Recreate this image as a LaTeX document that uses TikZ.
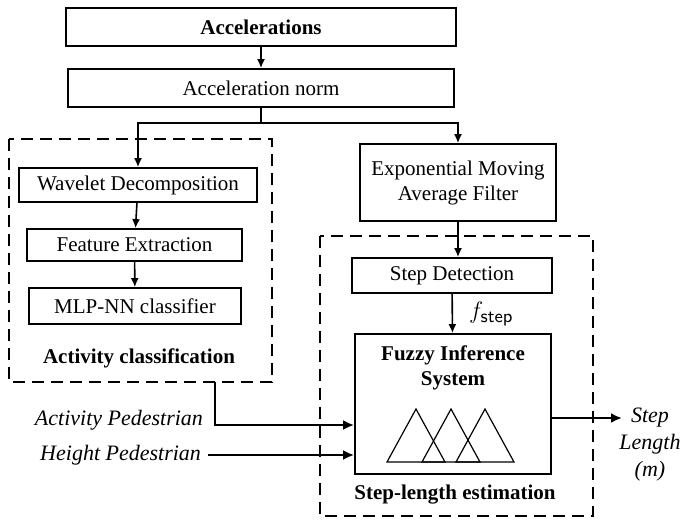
\documentclass[tikz,border=0pt]{standalone}
\usepackage{fontspec}
\setmainfont{Liberation Serif}
\usepackage{amsmath}
\usepackage{xcolor}
\usepackage{tikz}
\usetikzlibrary{positioning}
\usetikzlibrary{arrows.meta, calc}

\tikzset{
    block/.style={draw, line width=0.9pt, inner sep=1pt, align=center,
        font=\fontsize{10.5}{12.5}\selectfont},
    title/.style={align=center, font=\fontsize{10.5}{12.5}\selectfont\bfseries},
    signal/.style={align=center, font=\fontsize{11}{13.5}\selectfont\itshape},
    group/.style={draw, line width=1.3pt, dash pattern=on 6pt off 3.5pt},
    link/.style={line width=0.8pt, -{Latex[length=4.5pt, width=4pt]}},
    input/.style={line width=1.3pt, -{Latex[length=5.5pt, width=5pt]}},
}

\begin{document}
\begin{tikzpicture}[x=1pt, y=-1pt]
        \useasboundingbox (0,0) rectangle (343,260.5);

        % common front end
        \node[block, minimum width=195pt, minimum height=19pt, font=\fontsize{10.5}{12.5}\selectfont\bfseries]
            (accel) at (130.5,13.5) {Accelerations};
        \node[block, minimum width=193pt, minimum height=19pt] (norm) at (130.5,44) {Acceleration norm};
        \coordinate (split) at (130.5,61.5);

        \begin{scope}
            \draw[group] (4.5,69.5) rectangle (136,191);
            \coordinate (acttap) at (107.5,191);
            \node[block, minimum width=119pt, minimum height=17pt] (wave) at (69,92.5) {Wavelet Decomposition};
            \node[block, minimum width=107.5pt, minimum height=16pt] (feat) at (67.25,122.5) {Feature Extraction};
            \node[block, minimum width=106pt, minimum height=18pt] (mlp) at (67.5,153) {MLP-NN classifier};
            \node[title] (actlbl) at (69.5,179) {Activity classification};
        \end{scope}

        \node[block, minimum width=98pt, minimum height=38.5pt] (ema) at (229,91.25)
            {Exponential Moving\\Average Filter};

        \begin{scope}
            \draw[group] (160,118) rectangle (296.5,258);
            \node[block, minimum width=100pt, minimum height=17.5pt] (stepdet) at (226,137.75) {Step Detection};
            \node[block, minimum width=98pt, minimum height=70pt] (fis) at (226.5,202) {};
            \node[title] (fistitle) at (226.5,183.75) {Fuzzy Inference\\System};
            \foreach \x in {193.5, 211, 228}
                \draw[line width=0.6pt, line join=miter] (\x,231) -- ++(14.5,-26.5) -- ++(14.5,26.5) -- cycle;
            \node[title] (estlbl) at (227.5,247.5) {Step-length estimation};
        \end{scope}

        \node[signal, anchor=east] (actped) at (105,210) {Activity Pedestrian};
        \node[signal, anchor=east] (hgtped) at (104,227.5) {Height Pedestrian};
        \coordinate (out) at (311,209);
        \node[signal] (steplen) at (325,222.5) {Step\\Length\\(m)};

        \draw[link] (accel) -- (norm);
        \draw[line width=0.8pt] (norm) -- (split);
        \draw[link] (split) -| (wave.north);
        \draw[link] (split) -| (ema.north);
        \draw[link] (wave) -- (feat);
        \draw[link] (feat) -- (mlp);
        \draw[link] (ema.south) -- (ema.south |- stepdet.north);
        \draw[link] (stepdet) -- (fis);
        \node[anchor=west, font=\fontsize{13}{15}\selectfont] (fstep) at (231,157) {$f_{\textsf{step}}$};

        \draw[input] (acttap) |- ($(fis.west)+(0,10.5)$);
        \draw[input] (hgtped.east) -- (hgtped.east -| fis.west);
        \draw[input] (fis.east |- out) -- (out);
    \end{tikzpicture}
\end{document}
